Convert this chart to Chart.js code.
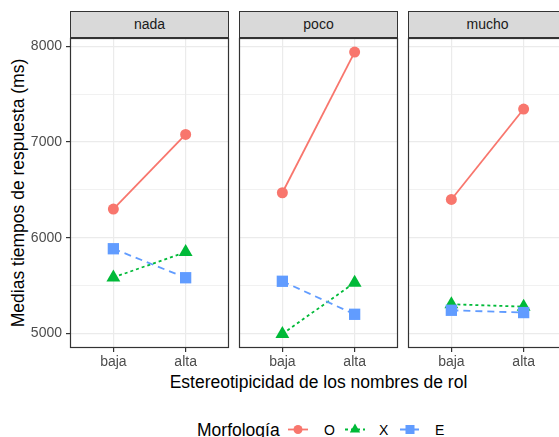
<!DOCTYPE html>
<html>
<head>
<meta charset="utf-8">
<script src="https://cdn.jsdelivr.net/npm/chart.js@4"></script>
<style>
  body { margin: 0; width: 559px; height: 437px; overflow: hidden; background: #fff; position: relative;
         font-family: "Liberation Sans", Arial, sans-serif; }
  canvas, .strip, .txt, svg { position: absolute; }
  .strip { top: 11px; height: 27px; box-sizing: border-box; border: 1px solid #333; background: #d9d9d9;
           color: #1a1a1a; font-size: 14px; line-height: 25px; text-align: center; }
  .txt { white-space: nowrap; color: #000; }
</style>
</head>
<body>
<div class="txt" style="left:70px;width:497px;top:372px;font-size:17.5px;line-height:20px;text-align:center;">Estereotipicidad de los nombres de rol</div>
<div class="txt" style="left:-132px;width:300px;top:183px;font-size:17.5px;line-height:20px;text-align:center;transform:rotate(-90deg);">Medias tiempos de respuesta (ms)</div>
<div class="txt" style="left:197px;top:420px;font-size:17.5px;line-height:20px;">Morfología</div>
<script>
// data
const categories = ['baja', 'alta'];
const facets = ['nada', 'poco', 'mucho'];
const morphs = ['O', 'X', 'E'];
// values per facet (nada, poco, mucho), each [baja, alta]
const oValues = [[6300, 7080], [6470, 7940], [6400, 7345]];
const xValues = [[5585, 5850], [4995, 5530], [5305, 5280]];
const eValues = [[5885, 5582], [5545, 5200], [5242, 5218]];
const yTicks = [5000, 6000, 7000, 8000];

// styles
const seriesValues = [oValues, xValues, eValues];
const colors = ['#F8766D', '#00BA38', '#619CFF'];
const dashes = [[], [3, 3], [7, 5]];
const shapes = ['circle', 'triangle', 'rect'];
const radii = [5.5, 8, 8];
const font = '"Liberation Sans", Arial, sans-serif';

// ggplot-like range: data range expanded 5% each side
const all = seriesValues.flat(2);
const lo = Math.min(...all), hi = Math.max(...all);
const yMin = lo - (hi - lo) * 0.05, yMax = hi + (hi - lo) * 0.05;
const gridVals = [];
for (let v = yTicks[0]; v <= yTicks[yTicks.length - 1]; v += 500) gridVals.push(v);

const panelLeft = [70, 239, 408];
const panelW = 159;
const canvasTop = 37, canvasH = 340, panelBottom = 348;

// panel border drawn over the data, like panel.border
const frame = {
  id: 'frame',
  afterDatasetsDraw(chart) {
    const a = chart.chartArea, c = chart.ctx;
    c.save();
    c.strokeStyle = '#333';
    c.lineWidth = 1.2;
    c.strokeRect(a.left + 0.5, a.top + 0.5, a.width - 1, a.height - 1);
    c.restore();
  }
};

function noPad(s) {
  s.paddingTop = 0; s.paddingBottom = 0; s.paddingLeft = 0; s.paddingRight = 0;
}

facets.forEach((f, i) => {
  const first = i === 0;
  const axisW = first ? 70 : 3;
  const cv = document.createElement('canvas');
  cv.width = axisW + panelW + 3;
  cv.height = canvasH;
  cv.style.left = (panelLeft[i] - axisW) + 'px';
  cv.style.top = canvasTop + 'px';
  document.body.appendChild(cv);

  const strip = document.createElement('div');
  strip.className = 'strip';
  strip.style.left = panelLeft[i] + 'px';
  strip.style.width = panelW + 'px';
  strip.textContent = f;
  document.body.appendChild(strip);

  new Chart(cv, {
    type: 'line',
    data: {
      datasets: morphs.map((m, k) => ({
        label: m,
        data: categories.map((c, j) => ({ x: j, y: seriesValues[k][i][j] })),
        borderColor: colors[k],
        backgroundColor: colors[k],
        borderWidth: 1.8,
        borderDash: dashes[k],
        pointStyle: shapes[k],
        pointRadius: radii[k],
        pointBorderWidth: 0,
        order: 3 - k
      }))
    },
    options: {
      responsive: false,
      animation: false,
      layout: { autoPadding: false, padding: { top: 1, right: 3, left: 0, bottom: 0 } },
      plugins: { legend: { display: false }, tooltip: { enabled: false } },
      scales: {
        x: {
          type: 'linear', min: -0.6, max: 1.6,
          afterBuildTicks: s => { s.ticks = categories.map((c, j) => ({ value: j })); },
          afterFit: s => { s.height = canvasH - (panelBottom - canvasTop); noPad(s); },
          ticks: { callback: v => categories[v], color: '#4d4d4d', font: { size: 14, family: font },
                   padding: 2, autoSkip: false, maxRotation: 0 },
          grid: { color: '#ebebeb', lineWidth: 1.2, tickLength: 4, tickColor: '#333', tickWidth: 1.2 },
          border: { display: false }
        },
        y: {
          min: yMin, max: yMax,
          afterBuildTicks: s => { s.ticks = gridVals.map(v => ({ value: v })); },
          afterFit: s => { s.width = axisW; noPad(s); },
          ticks: { display: first, callback: v => yTicks.includes(v) ? String(v) : '',
                   color: '#4d4d4d', font: { size: 14, family: font }, padding: 4 },
          grid: {
            color: '#ebebeb',
            lineWidth: ctx => yTicks.includes(ctx.tick.value) ? 1.2 : 0.7,
            drawTicks: first, tickLength: 4, tickWidth: 1.2,
            tickColor: ctx => yTicks.includes(ctx.tick.value) ? '#333' : 'rgba(0,0,0,0)'
          },
          border: { display: false }
        }
      }
    },
    plugins: [frame]
  });
});

// legend
const keyX = [298, 355, 410];
const labelX = [324, 379, 435];
const keyY = 429.5;
const svgNS = 'http://www.w3.org/2000/svg';
const svg = document.createElementNS(svgNS, 'svg');
svg.setAttribute('width', 559);
svg.setAttribute('height', 437);
svg.style.left = '0px';
svg.style.top = '0px';
morphs.forEach((m, k) => {
  const cx = keyX[k];
  const line = document.createElementNS(svgNS, 'line');
  line.setAttribute('x1', cx - 10); line.setAttribute('x2', cx + 10);
  line.setAttribute('y1', keyY); line.setAttribute('y2', keyY);
  line.setAttribute('stroke', colors[k]); line.setAttribute('stroke-width', 1.8);
  if (dashes[k].length) line.setAttribute('stroke-dasharray', dashes[k].join(' '));
  svg.appendChild(line);
  let mark;
  if (k === 0) {
    mark = document.createElementNS(svgNS, 'circle');
    mark.setAttribute('cx', cx); mark.setAttribute('cy', keyY); mark.setAttribute('r', 4.5);
  } else if (k === 1) {
    mark = document.createElementNS(svgNS, 'polygon');
    const r = 6;
    mark.setAttribute('points', `${cx},${keyY - r} ${cx + r * 0.866},${keyY + r / 2} ${cx - r * 0.866},${keyY + r / 2}`);
  } else {
    mark = document.createElementNS(svgNS, 'rect');
    mark.setAttribute('x', cx - 4.5); mark.setAttribute('y', keyY - 4.5);
    mark.setAttribute('width', 9); mark.setAttribute('height', 9);
  }
  mark.setAttribute('fill', colors[k]);
  svg.appendChild(mark);

  const t = document.createElement('div');
  t.className = 'txt';
  t.style.left = labelX[k] + 'px';
  t.style.top = '422px';
  t.style.fontSize = '14px';
  t.style.lineHeight = '16px';
  t.textContent = m;
  document.body.appendChild(t);
});
document.body.appendChild(svg);
</script>
</body>
</html>
